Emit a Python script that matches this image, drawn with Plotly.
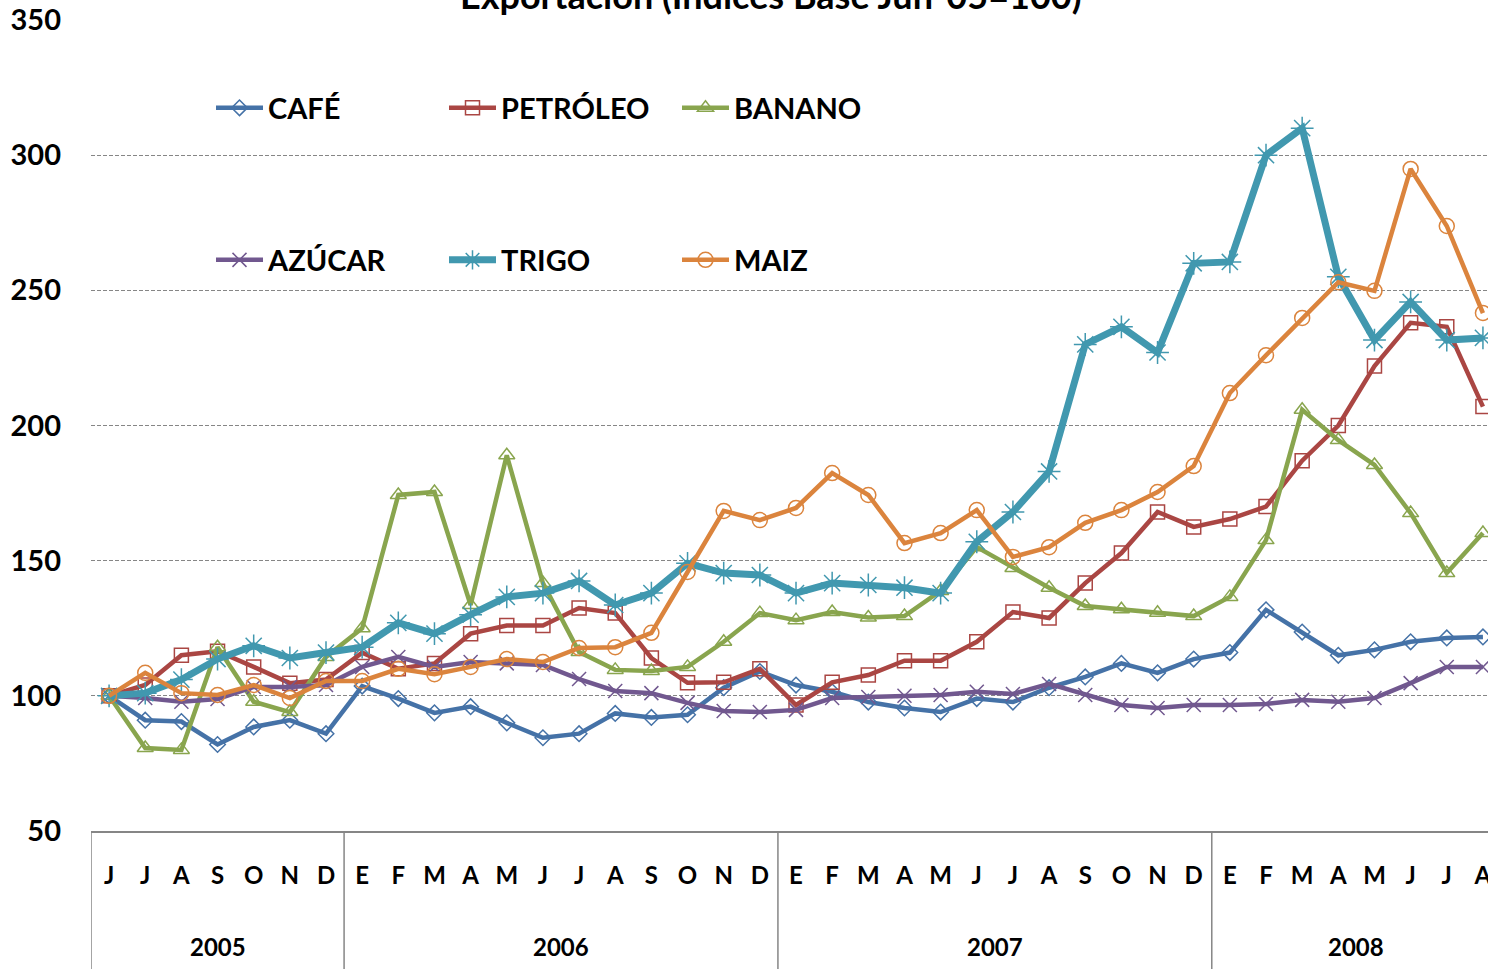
import plotly.graph_objects as go

# Monthly categories Jun-2005 .. Aug-2008
months = ['J', 'J', 'A', 'S', 'O', 'N', 'D',
          'E', 'F', 'M', 'A', 'M', 'J', 'J', 'A', 'S', 'O', 'N', 'D',
          'E', 'F', 'M', 'A', 'M', 'J', 'J', 'A', 'S', 'O', 'N', 'D',
          'E', 'F', 'M', 'A', 'M', 'J', 'J', 'A']
years = [2005] * 7 + [2006] * 12 + [2007] * 12 + [2008] * 8

cafe = [100, 91, 90.5, 82, 88.5, 91, 86,
        103.6, 99, 93.7, 96, 90, 84.5, 86, 93.5, 92, 93, 103, 109,
        104, 101.5, 97.7, 95.5, 94, 99, 97.7, 103, 107, 112, 108.5, 113.6,
        116, 131.8, 123.6, 115, 117, 120, 121.4, 121.8]
petroleo = [100, 104, 115, 116.5, 110.7, 104.7, 106,
            116, 110, 112, 123, 126, 126, 132.5, 130.6, 114, 104.8, 105, 110,
            96.6, 105, 107.7, 113, 113, 120, 131, 128.8, 141.7, 152.8, 168, 162.5,
            165.4, 170, 187, 200, 222, 238, 236.5, 207]
banano = [100, 80.7, 80, 118, 97.8, 94, 114.4,
          125, 174.3, 175.4, 133.6, 189, 141.7, 116.2, 109.6, 109.2, 110.7, 120, 130.6,
          128, 131, 129, 129.5, 138.8, 155, 147.3, 140, 133.2, 132, 130.7, 129.5,
          136.6, 157.6, 205.8, 194.6, 185.4, 167.6, 145.4, 160.2]
azucar = [100, 99.2, 97.8, 98.8, 103.3, 103.3, 104,
          110.7, 114.4, 110.7, 112.5, 112, 111.4, 106.2, 101.8, 101, 97.4, 94.4, 94,
          94.8, 99.2, 99.6, 100, 100.3, 101.5, 100.7, 104.4, 100.3, 96.6, 95.5, 96.6,
          96.6, 97, 98.5, 97.8, 99.2, 104.7, 110.7, 110.7]
trigo = [100, 101, 106, 113.6, 118.5, 114, 116,
         118, 127, 123, 130, 136.6, 138, 142.5, 133.6, 138, 149, 145.4, 144.7,
         138, 141.7, 141, 140, 138, 157, 168, 183, 230, 236.5, 227, 260,
         260.5, 300, 310, 255, 231.6, 245.7, 231.6, 232.4]
maiz = [100, 108.5, 101, 100.3, 104, 99.2, 105.5,
        105.5, 110, 108, 110.7, 113.6, 112.5, 117.7, 118, 123.3, 145.8, 168.4, 165,
        169.5, 182.4, 174.3, 156.5, 160.2, 168.7, 151.4, 155, 164, 168.7, 175.4, 185,
        212, 226, 239.8, 253, 249.8, 294.9, 273.8, 241.6]

names = ['CAFÉ', 'PETRÓLEO', 'BANANO', 'AZÚCAR', 'TRIGO', 'MAIZ']
values = [cafe, petroleo, banano, azucar, trigo, maiz]

style = {
    'CAFÉ': dict(color='#4572A7', symbol='diamond-open', size=12, width=4.5, legend='legend'),
    'PETRÓLEO': dict(color='#AA4643', symbol='square-open', size=14, width=4.5, legend='legend'),
    'BANANO': dict(color='#89A54E', symbol='triangle-up-open', size=14, width=4.5, legend='legend'),
    'AZÚCAR': dict(color='#71588F', symbol='x-thin-open', size=14, width=4.5, legend='legend2'),
    'TRIGO': dict(color='#4198AF', symbol='asterisk-open', size=19, width=7, legend='legend2'),
    'MAIZ': dict(color='#DB843D', symbol='circle-open', size=15, width=4.5, legend='legend2'),
}

x = list(range(len(months)))
FONT = 'Lato'

fig = go.Figure()
for name, vals in zip(names, values):
    s = style[name]
    fig.add_trace(go.Scatter(
        x=x, y=vals, name=name, mode='lines+markers',
        line=dict(color=s['color'], width=s['width']),
        marker=dict(symbol=s['symbol'], size=s['size'], color=s['color'],
                    line=dict(color=s['color'], width=1.5)),
        legend=s['legend']))

# year labels and group dividers from the category data
annotations = []
shapes = []
for yr in sorted(set(years)):
    idx = [i for i, v in enumerate(years) if v == yr]
    annotations.append(dict(
        x=sum(idx) / len(idx), y=-0.142, xref='x', yref='paper',
        text=str(yr), showarrow=False, yanchor='middle',
        font=dict(size=24, weight='bold', family=FONT, color='black')))
    shapes.append(dict(
        type='line', xref='x', yref='paper', x0=idx[0] - 0.5, x1=idx[0] - 0.5,
        y0=0, y1=-0.2, line=dict(color='#868686', width=1.5)))

annotations.append(dict(
    x=0.487, y=1.0012, xref='paper', yref='paper', yanchor='bottom',
    text='Exportación (Índices Base Jun-05=100)', showarrow=False,
    font=dict(size=36, weight='bold', family=FONT, color='black')))

legend_common = dict(
    orientation='h', xref='container', yref='container', yanchor='middle',
    x=211 / 1488, entrywidth=171, entrywidthmode='pixels', itemwidth=47,
    bgcolor='rgba(0,0,0,0)', traceorder='normal',
    font=dict(size=29, weight='bold', family=FONT, color='black'))

fig.update_layout(
    width=1488, height=969,
    margin=dict(l=91, r=0, t=20, b=138, autoexpand=False),
    paper_bgcolor='white', plot_bgcolor='white',
    font=dict(family=FONT, color='black'),
    showlegend=True,
    legend=dict(legend_common, y=1 - 108 / 969),
    legend2=dict(legend_common, y=1 - 260 / 969),
    xaxis=dict(
        range=[-0.5, 38.14], tickmode='array', tickvals=x, ticktext=months,
        showgrid=False, zeroline=False, showline=True, linecolor='#868686',
        linewidth=2, ticks='', ticklabelstandoff=22, automargin=False,
        ticklabeloverflow='allow',
        tickfont=dict(size=24, weight='bold', family=FONT, color='black')),
    yaxis=dict(
        range=[50, 350], dtick=50, showgrid=True, gridcolor='#868686',
        griddash='4px,2px', gridwidth=1.3, zeroline=False, showline=False,
        ticks='', ticklabelstandoff=29, automargin=False,
        tickfont=dict(size=29, weight='bold', family=FONT, color='black')),
    annotations=annotations,
    shapes=shapes,
)

fig.write_html('out.html', config={'displayModeBar': False},
               post_script="document.body.style.margin='0';")
